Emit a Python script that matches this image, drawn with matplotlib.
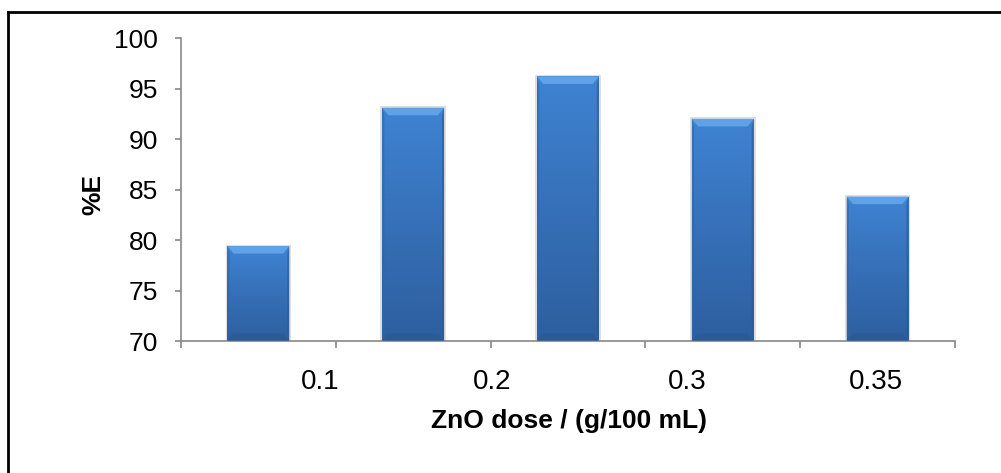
import numpy as np
import matplotlib
matplotlib.use("Agg")
import matplotlib.pyplot as plt
from matplotlib.patches import Polygon
from matplotlib.lines import Line2D
from matplotlib.colors import LinearSegmentedColormap

# Data
efficiency = [79.4, 93.1, 96.2, 92.0, 84.3]
tick_labels = ["0.1", "0.2", "0.3", "0.35"]
# where the (offset) category labels sit along the axis, in category units
label_pos = [0.9, 2.01, 3.27, 4.49]

plt.rcParams['font.family'] = ['Liberation Sans', 'DejaVu Sans']

fig = plt.figure(figsize=(10.01, 4.73), dpi=100)
ax = fig.add_axes([181 / 1001, 1 - 341 / 473, (955 - 181) / 1001, (341 - 38) / 473])

ymin, ymax = 70, 100
pos = np.arange(len(efficiency)) + 0.5
width = 0.4

bars = ax.bar(pos, np.array(efficiency) - ymin, bottom=ymin, width=width,
              color='none', edgecolor='none', zorder=2)

grad = LinearSegmentedColormap.from_list("bar", ["#2d5f9f", "#3670b8", "#3f83d2"])
g = np.linspace(0, 1, 256).reshape(-1, 1)

for b in bars:
    x0, y0 = b.get_x(), b.get_y()
    w, h = b.get_width(), b.get_height()
    x1, y1 = x0 + w, y0 + h
    # soft shadow
    ax.add_patch(plt.Rectangle((x0 - 0.012, y0), w + 0.024, h + 0.15,
                               facecolor='#c8c8c8', edgecolor='none', alpha=0.6, zorder=1.5))
    im = ax.imshow(g, cmap=grad, extent=(x0, x1, y0, y1), aspect='auto',
                   origin='lower', zorder=2, interpolation='bilinear')
    im.set_clip_path(b)
    dx = w * 0.1
    dy = 0.75
    # top bevel
    ax.add_patch(Polygon([(x0, y1), (x1, y1), (x1 - dx, y1 - dy), (x0 + dx, y1 - dy)],
                         closed=True, facecolor='#5fa2e8', edgecolor='none', zorder=3))
    # side bevels
    ax.add_patch(Polygon([(x0, y1), (x0 + dx * 0.35, y1 - dy), (x0 + dx * 0.35, y0 + dy), (x0, y0)],
                         closed=True, facecolor='#2f65aa', edgecolor='none', alpha=0.6, zorder=3))
    ax.add_patch(Polygon([(x1, y1), (x1 - dx * 0.35, y1 - dy), (x1 - dx * 0.35, y0 + dy), (x1, y0)],
                         closed=True, facecolor='#2a5a98', edgecolor='none', alpha=0.6, zorder=3))
    # bottom bevel
    ax.add_patch(Polygon([(x0, y0), (x1, y0), (x1 - dx, y0 + dy), (x0 + dx, y0 + dy)],
                         closed=True, facecolor='#2a5894', edgecolor='none', alpha=0.7, zorder=3))

ax.set_xlim(0, len(efficiency))
ax.set_ylim(ymin, ymax)
ax.set_yticks(np.arange(70, 101, 5))
ax.set_xticks(np.arange(len(efficiency) + 1))
ax.set_xticklabels([])
ax.set_xticks(label_pos, minor=True)
ax.set_xticklabels(tick_labels, minor=True)

for s in ['top', 'right']:
    ax.spines[s].set_visible(False)
for s in ['left', 'bottom']:
    ax.spines[s].set_color('#888888')
    ax.spines[s].set_linewidth(1.2)

ax.tick_params(axis='y', direction='out', length=4.5, width=1.2, color='#888888',
               labelsize=19, pad=12)
ax.tick_params(axis='x', which='major', direction='out', length=5, width=1.2, color='#888888')
ax.tick_params(axis='x', which='minor', length=0, labelsize=20, pad=20)

ax.set_xlabel("ZnO dose / (g/100 mL)", fontsize=19, fontweight='bold')
ax.set_ylabel("%E", fontsize=19, fontweight='bold')
ax.xaxis.set_label_coords(0.501, -0.265)
ax.xaxis.label.set_va('center')
ax.yaxis.set_label_coords(-0.1137, 0.485)
ax.yaxis.label.set_va('center')

# outer frame (left and top edges visible)
fig.add_artist(Line2D([8 / 1001, 8 / 1001], [0, 1 - 12 / 473], color='black', lw=2,
                      transform=fig.transFigure))
fig.add_artist(Line2D([8 / 1001, 1], [1 - 12 / 473, 1 - 12 / 473], color='black', lw=2,
                      transform=fig.transFigure))

fig.savefig("out.png", dpi=100)
